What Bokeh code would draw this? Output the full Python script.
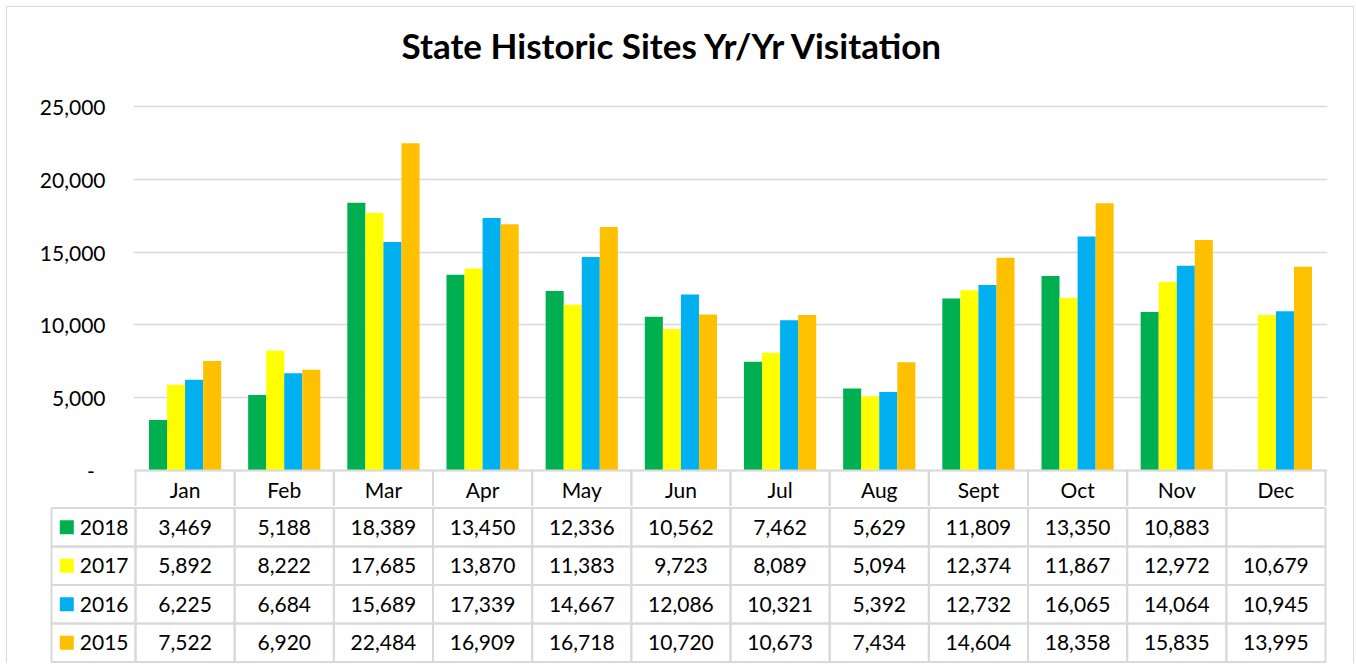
import math
from bokeh.plotting import figure
from bokeh.models import Range1d, FixedTicker, NumeralTickFormatter, ColumnDataSource
from bokeh.layouts import column
from bokeh.core.properties import value
from bokeh.embed import file_html
from bokeh.resources import INLINE

# ---------------- data ----------------
months = ["Jan", "Feb", "Mar", "Apr", "May", "Jun", "Jul", "Aug", "Sept", "Oct", "Nov", "Dec"]
years = ["2018", "2017", "2016", "2015"]
v2018 = [3469, 5188, 18389, 13450, 12336, 10562, 7462, 5629, 11809, 13350, 10883, float("nan")]
v2017 = [5892, 8222, 17685, 13870, 11383, 9723, 8089, 5094, 12374, 11867, 12972, 10679]
v2016 = [6225, 6684, 15689, 17339, 14667, 12086, 10321, 5392, 12732, 16065, 14064, 10945]
v2015 = [7522, 6920, 22484, 16909, 16718, 10720, 10673, 7434, 14604, 18358, 15835, 13995]
series = [v2018, v2017, v2016, v2015]
colors = ["#00B050", "#FFFF00", "#00B0F0", "#FFC000"]
y_ticks = [0, 5000, 10000, 15000, 20000, 25000]

# ---------------- layout constants ----------------
FONT = "Lato"
GRID = "#d9d9d9"
UNIT = 99.17            # px per month column
PXY = 364 / 25000       # px per visitor
n = len(months)

x0 = -2 / UNIT
x1 = n + 2 / UNIT
y_end = 25000 + 34 / PXY   # empty headroom between title and top gridline
y_start = -36 / PXY
hh = 37.5 / PXY            # header row height in data units

# frame: top at page 72, bottom at page 506 -> 434 px
p1 = figure(width=1346, height=499, x_range=Range1d(x0, x1), y_range=Range1d(y_start, y_end),
            output_backend="svg", toolbar_location=None,
            min_border_left=126, min_border_right=26, min_border_top=65, min_border_bottom=0,
            title="State Historic Sites Yr/Yr Visitation")
p1.frame_align = False
p1.title.text_font = FONT
p1.title.text_font_style = "bold"
p1.title.text_font_size = "35px"
p1.title.text_color = "#000000"
p1.title.align = "left"
p1.title.offset = 268
p1.title.standoff = 13
p1.outline_line_color = None
p1.xaxis.visible = False
p1.xgrid.visible = False
p1.ygrid.ticker = FixedTicker(ticks=y_ticks)
p1.ygrid.grid_line_color = GRID
p1.ygrid.grid_line_width = 1.5
ya = p1.yaxis[0]
ya.ticker = FixedTicker(ticks=y_ticks)
ya.formatter = NumeralTickFormatter(format="0,0")
ya.major_label_overrides = {0: "-  "}
ya.major_tick_line_color = None
ya.minor_tick_line_color = None
ya.major_tick_out = 0
ya.major_tick_in = 0
ya.axis_line_color = None
ya.major_label_standoff = 28
ya.major_label_text_font = FONT
ya.major_label_text_font_size = "21px"
ya.major_label_text_color = "#000000"

bar_w = 0.182
offsets = [-1.5 * bar_w, -0.5 * bar_w, 0.5 * bar_w, 1.5 * bar_w]
for vals, col, off in zip(series, colors, offsets):
    src = ColumnDataSource(dict(x=[i + 0.5 + off for i in range(n)], top=vals))
    p1.vbar(x="x", top="top", bottom=0, width=bar_w, source=src,
            fill_color=col, line_color=None)

# header row of the table (month names)
hdr = ColumnDataSource(dict(x=[i + 0.5 for i in range(n)], y=[-hh / 2] * n,
                            ty=[-18.5 / PXY] * n, m=months))
p1.rect(x="x", y="y", width=1, height=hh, source=hdr, fill_color=None,
        line_color=GRID, line_width=2)
p1.text(x="x", y="ty", text="m", source=hdr, text_align="center",
        text_baseline="middle", text_font=value(FONT), text_font_size=value("21px"),
        text_color="#000000")

# ---------------- data table ----------------
leg_w = 84 / UNIT
p2 = figure(width=1346, height=157, x_range=Range1d(-86 / UNIT, x1), y_range=Range1d(-0.04, 4.04),
            output_backend="svg", toolbar_location=None,
            min_border_left=42, min_border_right=26, min_border_top=0, min_border_bottom=0)
p2.frame_align = False
p2.outline_line_color = None
p2.axis.visible = False
p2.grid.visible = False

cx, cy, ct = [], [], []
for r, vals in enumerate(series):
    yc = len(series) - r - 0.5
    for i, v in enumerate(vals):
        cx.append(i + 0.5)
        cy.append(yc)
        ct.append("" if (isinstance(v, float) and math.isnan(v)) else f"{int(v):,}")
cells = ColumnDataSource(dict(x=cx, y=cy, t=ct))
p2.rect(x="x", y="y", width=1, height=1, source=cells, fill_color=None,
        line_color=GRID, line_width=2)
p2.text(x="x", y="y", text="t", source=cells, text_align="center", text_baseline="middle",
        text_font=value(FONT), text_font_size=value("21px"), text_color="#000000")

ly = [len(series) - r - 0.5 for r in range(len(series))]
leg = ColumnDataSource(dict(x=[-leg_w / 2] * len(years), y=ly, t=years, c=colors,
                            sx=[-68.7 / UNIT] * len(years), tx=[-55.7 / UNIT] * len(years)))
p2.rect(x="x", y="y", width=leg_w, height=1, source=leg, fill_color=None,
        line_color=GRID, line_width=2)
p2.scatter(x="sx", y="y", marker="square", size=14, source=leg, fill_color="c", line_color=None)
p2.text(x="tx", y="y", text="t", source=leg, text_align="left", text_baseline="middle",
        text_font=value(FONT), text_font_size=value("21px"), text_color="#000000")

layout = column(p1, p2, spacing=0,
                styles={"margin-left": "6px", "margin-top": "6px",
                        "border-top": "1px solid #d9d9d9", "border-left": "1px solid #d9d9d9",
                        "border-right": "1px solid #d9d9d9"})

open("out.html", "w").write(file_html(layout, INLINE))
